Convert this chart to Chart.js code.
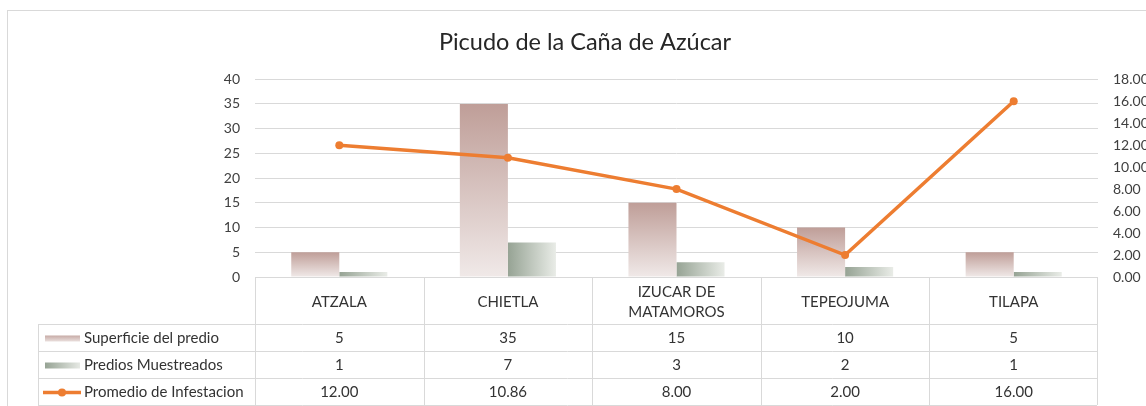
<!DOCTYPE html>
<html><head><meta charset="utf-8">
<script src="https://cdn.jsdelivr.net/npm/chart.js@4.4.1/dist/chart.umd.min.js"></script>
<style>html,body{margin:0;padding:0;background:#fff;overflow:hidden}canvas{display:block}</style>
</head><body>
<canvas id="c" width="1146" height="406"></canvas>
<script>
const title = "Picudo de la Caña de Azúcar";
const categories = ["ATZALA", "CHIETLA", "IZUCAR DE MATAMOROS", "TEPEOJUMA", "TILAPA"];
const seriesNames = ["Superficie del predio", "Predios Muestreados", "Promedio de Infestacion"];
const superficie = [5, 35, 15, 10, 5];
const predios = [1, 7, 3, 2, 1];
const promedio = [12.00, 10.86, 8.00, 2.00, 16.00];
const leftAxis = {min: 0, max: 40, step: 5};
const rightAxis = {min: 0, max: 18, step: 2};

const FONT = "Lato, 'Open Sans', sans-serif";
const TXT = "#404040";
const GRID = "#d9d9d9";
const ORANGE = "#ED7D31";
const CAT_PCT = 0.57;

function supGradient(c) {
  const chart = c.chart;
  if (!chart.chartArea || c.raw === undefined) return "#cdb2ad";
  const y = chart.scales.y;
  const top = y.getPixelForValue(c.raw), bot = y.getPixelForValue(0);
  const g = chart.ctx.createLinearGradient(0, top, 0, Math.max(bot, top + 1));
  g.addColorStop(0, "#bf9e98");
  g.addColorStop(1, "#f0e9e8");
  return g;
}
function predGradient(c) {
  const chart = c.chart;
  if (!chart.chartArea || c.dataIndex === undefined) return "#b7c0b5";
  const x = chart.scales.x;
  const ca = chart.chartArea;
  const colW = (ca.right - ca.left) / categories.length;
  const bw = colW * CAT_PCT / 2;
  const cx = x.getPixelForValue(c.dataIndex);
  const g = chart.ctx.createLinearGradient(cx, 0, cx + bw, 0);
  g.addColorStop(0, "#96a394");
  g.addColorStop(1, "#e9ece7");
  return g;
}

function wrapText(ctx, text, maxW) {
  const words = text.split(" ");
  const lines = [];
  let cur = "";
  for (const w of words) {
    const t = cur ? cur + " " + w : w;
    if (ctx.measureText(t).width > maxW && cur) { lines.push(cur); cur = w; }
    else cur = t;
  }
  if (cur) lines.push(cur);
  return lines;
}

const frameAndTable = {
  id: "frameAndTable",
  beforeDraw(chart) {
    const ctx = chart.ctx;
    ctx.save();
    ctx.strokeStyle = GRID;
    ctx.lineWidth = 1;
    ctx.strokeRect(7.5, 10.5, 1300, 600);
    ctx.restore();
  },
  afterDraw(chart) {
    const ctx = chart.ctx;
    const ca = chart.chartArea;
    const n = categories.length;
    const colW = (ca.right - ca.left) / n;
    const top = ca.bottom;
    const headH = 47, rowH = 27;
    const legLeft = 38;
    const tableRight = ca.right - 1;
    const rowsY = [top + headH, top + headH + rowH, top + headH + 2 * rowH, top + headH + 3 * rowH];
    const px = v => Math.round(v) + 0.5;
    ctx.save();
    ctx.strokeStyle = GRID;
    ctx.lineWidth = 1;
    ctx.beginPath();
    ctx.moveTo(ca.left, px(top)); ctx.lineTo(tableRight, px(top));
    for (const ry of rowsY) { ctx.moveTo(legLeft, px(ry)); ctx.lineTo(tableRight, px(ry)); }
    for (let k = 0; k <= n; k++) {
      const vx = k === n ? tableRight : ca.left + k * colW;
      ctx.moveTo(px(vx), top); ctx.lineTo(px(vx), rowsY[3]);
    }
    ctx.moveTo(px(legLeft), rowsY[0]); ctx.lineTo(px(legLeft), rowsY[3]);
    ctx.stroke();

    ctx.fillStyle = "#333333";
    ctx.font = "15px " + FONT;
    ctx.textAlign = "center";
    ctx.textBaseline = "middle";
    for (let i = 0; i < n; i++) {
      const cx = ca.left + colW * (i + 0.5);
      const lines = wrapText(ctx, categories[i], colW - 40);
      const lh = 20;
      const cy = top + headH / 2 + 2;
      lines.forEach((ln, j) => ctx.fillText(ln, cx, cy + (j - (lines.length - 1) / 2) * lh));
    }
    const rows = [superficie.map(String), predios.map(String), promedio.map(v => v.toFixed(2))];
    rows.forEach((vals, r) => {
      const cy = rowsY[r] + rowH / 2 + 1;
      vals.forEach((v, i) => ctx.fillText(v, ca.left + colW * (i + 0.5), cy));
    });
    ctx.textAlign = "left";
    seriesNames.forEach((name, r) => {
      const cy = rowsY[r] + rowH / 2 + 1;
      if (r === 0) {
        const g = ctx.createLinearGradient(0, cy - 3, 0, cy + 3);
        g.addColorStop(0, "#c7aba6"); g.addColorStop(1, "#eadfdd");
        ctx.fillStyle = g; ctx.fillRect(45, cy - 3, 35, 6);
      } else if (r === 1) {
        const g = ctx.createLinearGradient(45, 0, 80, 0);
        g.addColorStop(0, "#96a394"); g.addColorStop(1, "#e6e9e4");
        ctx.fillStyle = g; ctx.fillRect(45, cy - 3, 35, 6);
      } else {
        ctx.strokeStyle = ORANGE; ctx.lineWidth = 3.5;
        ctx.beginPath(); ctx.moveTo(43, cy); ctx.lineTo(81, cy); ctx.stroke();
        ctx.fillStyle = ORANGE;
        ctx.beginPath(); ctx.arc(62, cy, 4, 0, Math.PI * 2); ctx.fill();
      }
      ctx.fillStyle = "#333333";
      ctx.fillText(name, 84, cy);
    });
    ctx.restore();
  }
};

new Chart(document.getElementById("c"), {
  type: "bar",
  data: {
    labels: categories,
    datasets: [
      {
        type: "line", label: seriesNames[2], data: promedio, yAxisID: "y1", order: 0,
        borderColor: ORANGE, backgroundColor: ORANGE, borderWidth: 3.5,
        pointRadius: 4, pointHoverRadius: 4, pointBackgroundColor: ORANGE, pointBorderWidth: 0,
        tension: 0, fill: false
      },
      {
        label: seriesNames[0], data: superficie, yAxisID: "y", order: 1,
        backgroundColor: supGradient, borderWidth: 0,
        categoryPercentage: CAT_PCT, barPercentage: 1
      },
      {
        label: seriesNames[1], data: predios, yAxisID: "y", order: 1,
        backgroundColor: predGradient, borderWidth: 0,
        categoryPercentage: CAT_PCT, barPercentage: 1
      }
    ]
  },
  options: {
    responsive: false,
    animation: false,
    events: [],
    layout: { padding: { top: 6, bottom: 129, left: 24, right: 0 } },
    plugins: {
      legend: { display: false },
      tooltip: { enabled: false },
      title: {
        display: true, text: title, color: "#262626",
        font: { family: FONT, size: 23.5, weight: "normal" },
        padding: { top: 22, bottom: 23 }
      }
    },
    scales: {
      x: { display: false, offset: true },
      y: {
        position: "left", min: leftAxis.min, max: leftAxis.max,
        afterFit(s) { s.width = 231; },
        border: { display: false },
        grid: { color: GRID, lineWidth: 1, drawTicks: false, tickLength: 0 },
        ticks: { stepSize: leftAxis.step, padding: 15, color: TXT, font: { family: FONT, size: 14 } }
      },
      y1: {
        position: "right", min: rightAxis.min, max: rightAxis.max,
        afterFit(s) { s.width = 48; },
        border: { display: false },
        grid: { display: false, drawTicks: false, tickLength: 0 },
        ticks: { stepSize: rightAxis.step, padding: 15, color: TXT, font: { family: FONT, size: 14 },
                 callback: v => Number(v).toFixed(2) }
      }
    }
  },
  plugins: [frameAndTable]
});
</script>
</body></html>
